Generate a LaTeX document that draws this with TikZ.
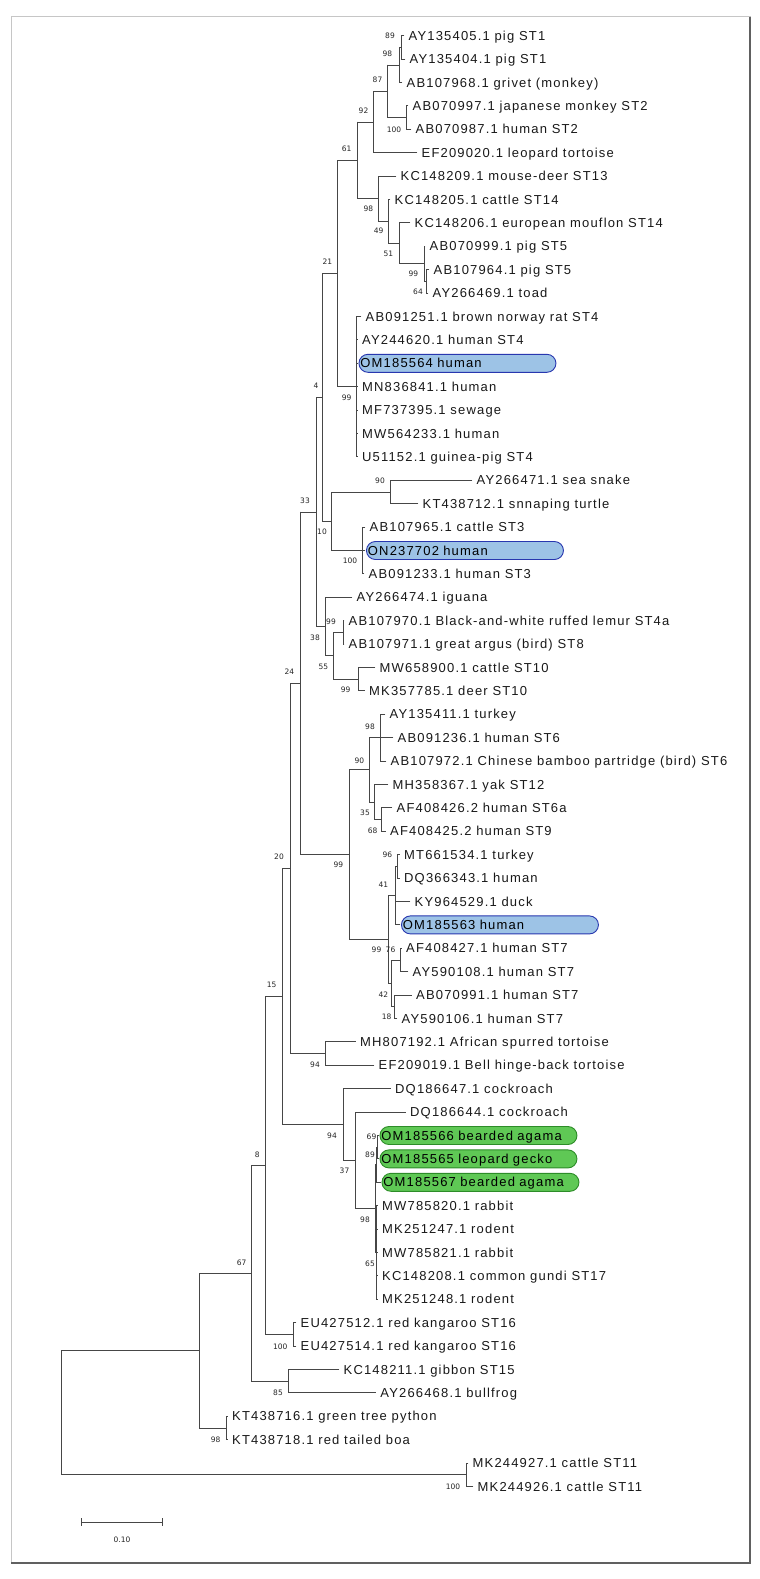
\documentclass[tikz,border=0pt]{standalone}
\usepackage{fontspec}
\setmainfont{Liberation Sans}
\newfontfamily\leaffont[LetterSpace=9]{Liberation Sans}
\newfontfamily\bsfont{DejaVu Sans}
\usetikzlibrary{calc}
\definecolor{boxblue}{RGB}{157,195,230}
\definecolor{boxblueline}{RGB}{40,55,175}
\definecolor{boxgreen}{RGB}{95,200,85}
\definecolor{boxgreenline}{RGB}{45,140,40}
\definecolor{treeline}{RGB}{70,70,70}
\tikzset{
  br/.style={draw=treeline, line width=0.85pt, line cap=rect},
  leaftext/.style={anchor=west, inner sep=0pt, text height=9.3pt, text depth=0pt,
    font=\leaffont\fontsize{13}{15}\selectfont, text=black!90},
  hlbase/.style={anchor=west, rounded corners=9pt, minimum height=18pt, text width=194pt,
    inner xsep=1.5pt, inner ysep=0pt, text height=9.3pt, text depth=0pt, align=left,
    line width=0.9pt, font=\leaffont\fontsize{13}{15}\selectfont, text=black},
  hlb/.style={hlbase, draw=boxblueline, fill=boxblue},
  hlg/.style={hlbase, draw=boxgreenline, fill=boxgreen},
  bs/.style={inner sep=0pt, font=\bsfont\fontsize{7.5}{8.5}\selectfont, text=black!85},
}
\newcommand\leaf[4]{%
  \coordinate (#1) at (#3,{35.7+(#2-1)*23.4});
  \node[leaftext] (#1t) at ({#3+4.5},{35.7+(#2-1)*23.4}) {#4};
}
\newcommand\hleaf[5]{%
  \coordinate (#1) at (#3,{35.7+(#2-1)*23.4});
  \node[#5] (#1t) at ({#3+1},{35.7+(#2-1)*23.4}) {#4};
}
\newcommand\tnode[5]{%
  \path let \p1=(#3), \p2=(#4) in coordinate (#1) at (#2pt,{0.5*(\y1)+0.5*(\y2)});
  \draw[br] (#1 |- #3) -- (#1 |- #4);
  \foreach \ch in {#5} {\draw[br] (#1 |- \ch) -- (\ch);}
}
\begin{document}
\begin{tikzpicture}[x=1pt,y=-1pt]
\fill[white] (0,0) rectangle (760,1579);
\useasboundingbox (0,0) rectangle (760,1579);
% frame
\draw[gray!45, line width=1pt] (11,17) rectangle (750,1563);
\draw[gray!75!black, line width=1.1pt] (750,17) -- (750,1563) -- (11,1563);

% leaves
\leaf{l1}{1}{404}{AY135405.1 pig ST1}
\leaf{l2}{2}{405}{AY135404.1 pig ST1}
\leaf{l3}{3}{402}{AB107968.1 grivet (monkey)}
\leaf{l4}{4}{408}{AB070997.1 japanese monkey ST2}
\leaf{l5}{5}{411}{AB070987.1 human ST2}
\leaf{l6}{6}{417}{EF209020.1 leopard tortoise}
\leaf{l7}{7}{396}{KC148209.1 mouse-deer ST13}
\leaf{l8}{8}{390}{KC148205.1 cattle ST14}
\leaf{l9}{9}{410}{KC148206.1 european mouflon ST14}
\leaf{l10}{10}{425}{AB070999.1 pig ST5}
\leaf{l11}{11}{429}{AB107964.1 pig ST5}
\leaf{l12}{12}{428}{AY266469.1 toad}
\leaf{l13}{13}{361}{AB091251.1 brown norway rat ST4}
\leaf{l14}{14}{357.5}{AY244620.1 human ST4}
\hleaf{l15}{15}{357.5}{OM185564 human}{hlb}
\leaf{l16}{16}{357.5}{MN836841.1 human}
\leaf{l17}{17}{357.5}{MF737395.1 sewage}
\leaf{l18}{18}{357.5}{MW564233.1 human}
\leaf{l19}{19}{357.5}{U51152.1 guinea-pig ST4}
\leaf{l20}{20}{472}{AY266471.1 sea snake}
\leaf{l21}{21}{418}{KT438712.1 snnaping turtle}
\leaf{l22}{22}{365}{AB107965.1 cattle ST3}
\hleaf{l23}{23}{365}{ON237702 human}{hlb}
\leaf{l24}{24}{364}{AB091233.1 human ST3}
\leaf{l25}{25}{352}{AY266474.1 iguana}
\leaf{l26}{26}{344}{AB107970.1 Black-and-white ruffed lemur ST4a}
\leaf{l27}{27}{344}{AB107971.1 great argus (bird) ST8}
\leaf{l28}{28}{375}{MW658900.1 cattle ST10}
\leaf{l29}{29}{364.5}{MK357785.1 deer ST10}
\leaf{l30}{30}{385}{AY135411.1 turkey}
\leaf{l31}{31}{393}{AB091236.1 human ST6}
\leaf{l32}{32}{386}{AB107972.1 Chinese bamboo partridge (bird) ST6}
\leaf{l33}{33}{388}{MH358367.1 yak ST12}
\leaf{l34}{34}{392}{AF408426.2 human ST6a}
\leaf{l35}{35}{385.5}{AF408425.2 human ST9}
\leaf{l36}{36}{399.5}{MT661534.1 turkey}
\leaf{l37}{37}{399.5}{DQ366343.1 human}
\leaf{l38}{38}{410}{KY964529.1 duck}
\hleaf{l39}{39}{400}{OM185563 human}{hlb}
\leaf{l40}{40}{401.5}{AF408427.1 human ST7}
\leaf{l41}{41}{408}{AY590108.1 human ST7}
\leaf{l42}{42}{411.5}{AB070991.1 human ST7}
\leaf{l43}{43}{397}{AY590106.1 human ST7}
\leaf{l44}{44}{355.5}{MH807192.1 African spurred tortoise}
\leaf{l45}{45}{374}{EF209019.1 Bell hinge-back tortoise}
\leaf{l46}{46}{390.5}{DQ186647.1 cockroach}
\leaf{l47}{47}{405.5}{DQ186644.1 cockroach}
\hleaf{l48}{48}{378.5}{OM185566 bearded agama}{hlg}
\hleaf{l49}{49}{378.5}{OM185565 leopard gecko}{hlg}
\hleaf{l50}{50}{380.5}{OM185567 bearded agama}{hlg}
\leaf{l51}{51}{377.5}{MW785820.1 rabbit}
\leaf{l52}{52}{377.5}{MK251247.1 rodent}
\leaf{l53}{53}{377.5}{MW785821.1 rabbit}
\leaf{l54}{54}{377.5}{KC148208.1 common gundi ST17}
\leaf{l55}{55}{377.5}{MK251248.1 rodent}
\leaf{l56}{56}{296}{EU427512.1 red kangaroo ST16}
\leaf{l57}{57}{296}{EU427514.1 red kangaroo ST16}
\leaf{l58}{58}{339}{KC148211.1 gibbon ST15}
\leaf{l59}{59}{375.7}{AY266468.1 bullfrog}
\leaf{l60}{60}{227.5}{KT438716.1 green tree python}
\leaf{l61}{61}{227.5}{KT438718.1 red tailed boa}
\leaf{l62}{62}{468}{MK244927.1 cattle ST11}
\leaf{l63}{63}{473}{MK244926.1 cattle ST11}

% internal nodes (bottom-up)
\tnode{A}{401.5}{l1}{l2}{l1,l2}
\tnode{B}{399}{A}{l3}{A,l3}
\tnode{D}{406.3}{l4}{l5}{l4,l5}
\tnode{C}{387.3}{B}{D}{B,D}
\tnode{E}{373}{C}{l6}{C,l6}
\tnode{K}{426.5}{l11}{l12}{l11,l12}
\tnode{J}{424}{l10}{K}{l10,K}
\tnode{I}{399}{l9}{J}{l9,J}
\tnode{H}{388}{l8}{I}{l8,I}
\tnode{G}{378.7}{l7}{H}{l7,H}
\tnode{F}{357}{E}{G}{E,G}
\tnode{STfour}{356}{l13}{l19}{l13,l14,l15,l16,l17,l18,l19}
\tnode{N21}{337.3}{F}{STfour}{F,STfour}
\tnode{SN}{390}{l20}{l21}{l20,l21}
\tnode{STthree}{362.7}{l22}{l24}{l22,l23,l24}
\tnode{N10}{331.5}{SN}{STthree}{SN,STthree}
\tnode{N4}{322.7}{N21}{N10}{N21,N10}
\tnode{Pa}{343.3}{l26}{l27}{l26,l27}
\tnode{Pb}{358.7}{l28}{l29}{l28,l29}
\tnode{N55}{333.3}{Pa}{Pb}{Pa,Pb}
\tnode{N38}{325}{l25}{N55}{l25,N55}
\tnode{N33}{316}{N4}{N38}{N4,N38}
\tnode{T98}{380.7}{l30}{l32}{l30,l31,l32}
\tnode{N68}{381.7}{l34}{l35}{l34,l35}
\tnode{N35}{374}{l33}{N68}{l33,N68}
\tnode{N90}{369}{T98}{N35}{T98,N35}
\tnode{N96}{397}{l36}{l37}{l36,l37}
\tnode{N41}{395}{N96}{l39}{N96,l38,l39}
\tnode{N76}{400.7}{l40}{l41}{l40,l41}
\tnode{N18}{394.5}{l42}{l43}{l42,l43}
\tnode{N42}{391.5}{N76}{N18}{N76,N18}
\tnode{Nd}{388.3}{N41}{N42}{N41,N42}
\tnode{Q99}{349.3}{N90}{Nd}{N90,Nd}
\tnode{N24}{300}{N33}{Q99}{N33,Q99}
\tnode{TT}{325.5}{l44}{l45}{l44,l45}
\tnode{N20}{290}{N24}{TT}{N24,TT}
\tnode{N69}{377.5}{l48}{l49}{l48,l49}
\tnode{N89}{376.5}{N69}{l50}{N69,l50}
\tnode{N65}{376}{l51}{l55}{l51,l52,l53,l54,l55}
\tnode{Nr}{375}{N89}{N65}{N89,N65}
\tnode{N37}{355.5}{l47}{Nr}{l47,Nr}
\tnode{Cc}{343.3}{l46}{N37}{l46,N37}
\tnode{N15}{282.7}{N20}{Cc}{N20,Cc}
\tnode{KG}{293.5}{l56}{l57}{l56,l57}
\tnode{N8}{265}{N15}{KG}{N15,KG}
\tnode{GB}{288.4}{l58}{l59}{l58,l59}
\tnode{N67}{251}{N8}{GB}{N8,GB}
\tnode{BOA}{226}{l60}{l61}{l60,l61}
\tnode{X}{199.5}{N67}{BOA}{N67,BOA}
\tnode{STe}{466.3}{l62}{l63}{l62,l63}
\tnode{R}{61}{X}{STe}{X,STe}

% bootstrap values
\node[bs] (b1) at (390,35.7) {89};
\node[bs] (b2) at (387.3,53.5) {98};
\node[bs] (b3) at (377.5,80) {87};
\node[bs] (b4) at (363.5,110.5) {92};
\node[bs] (b5) at (394,129.3) {100};
\node[bs] (b6) at (346.7,149) {61};
\node[bs] (b7) at (368.3,208.7) {98};
\node[bs] (b8) at (378.7,231) {49};
\node[bs] (b9) at (388.3,254) {51};
\node[bs] (b10) at (413.3,274) {99};
\node[bs] (b11) at (418,292) {64};
\node[bs] (b12) at (327.3,262) {21};
\node[bs] (b13) at (316,386) {4};
\node[bs] (b14) at (346.7,397.7) {99};
\node[bs] (b15) at (380,480.7) {90};
\node[bs] (b16) at (305,501) {33};
\node[bs] (b17) at (322,531.7) {10};
\node[bs] (b18) at (350,561) {100};
\node[bs] (b19) at (331,621.7) {99};
\node[bs] (b20) at (315,637.3) {38};
\node[bs] (b21) at (323.3,666.7) {55};
\node[bs] (b22) at (289.3,671.5) {24};
\node[bs] (b23) at (345.7,690) {99};
\node[bs] (b24) at (370,726.7) {98};
\node[bs] (b25) at (359.3,761) {90};
\node[bs] (b26) at (365,812.7) {35};
\node[bs] (b27) at (372.7,830.7) {68};
\node[bs] (b28) at (387.3,855) {96};
\node[bs] (b29) at (279,856.8) {20};
\node[bs] (b30) at (338.3,864.3) {99};
\node[bs] (b31) at (383.3,885) {41};
\node[bs] (b32) at (376.5,950) {99};
\node[bs] (b33) at (390.5,950) {76};
\node[bs] (b34) at (383.3,994.3) {42};
\node[bs] (b35) at (386.7,1016.7) {18};
\node[bs] (b36) at (271.7,985) {15};
\node[bs] (b37) at (315,1064.3) {94};
\node[bs] (b38) at (332,1136) {94};
\node[bs] (b39) at (371.5,1136.7) {69};
\node[bs] (b40) at (370,1155) {89};
\node[bs] (b41) at (257.3,1154.3) {8};
\node[bs] (b42) at (344.5,1171) {37};
\node[bs] (b43) at (365,1219.3) {98};
\node[bs] (b44) at (370,1263.3) {65};
\node[bs] (b45) at (241.7,1262.3) {67};
\node[bs] (b46) at (280.2,1346.7) {100};
\node[bs] (b47) at (278,1393) {85};
\node[bs] (b48) at (215.7,1440) {98};
\node[bs] (b49) at (453,1486.7) {100};

% scale bar
\coordinate (sbL) at (81.4,1522.3);
\coordinate (sbR) at (162.4,1522.3);
\draw[br] (sbL) -- (sbR);
\draw[br] ($(sbL)+(0,-3.5)$) -- ($(sbL)+(0,3.5)$);
\draw[br] ($(sbR)+(0,-3.5)$) -- ($(sbR)+(0,3.5)$);
\node[bs] (sbt) at (122,1539.5) {0.10};
\end{tikzpicture}
\end{document}
